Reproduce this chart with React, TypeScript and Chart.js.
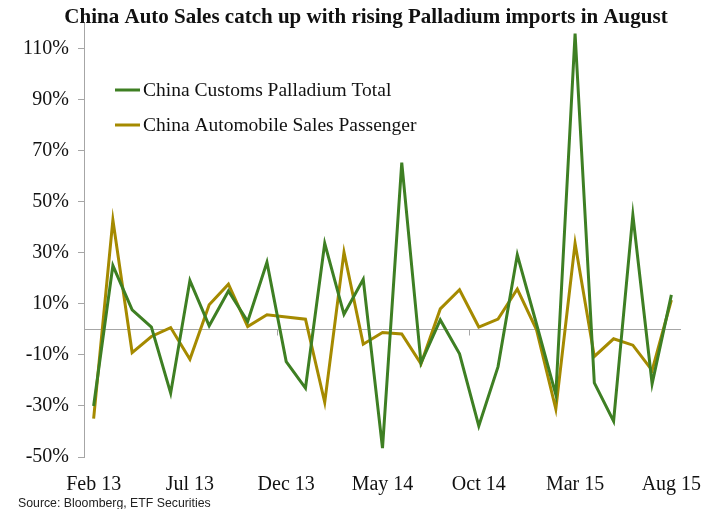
import React, { useEffect, useRef } from "react";
import { Chart, registerables } from "chart.js";

Chart.register(...registerables);

const months = [
  "Feb 13","Mar 13","Apr 13","May 13","Jun 13","Jul 13","Aug 13","Sep 13","Oct 13","Nov 13",
  "Dec 13","Jan 14","Feb 14","Mar 14","Apr 14","May 14","Jun 14","Jul 14","Aug 14","Sep 14",
  "Oct 14","Nov 14","Dec 14","Jan 15","Feb 15","Mar 15","Apr 15","May 15","Jun 15","Jul 15","Aug 15",
];

const palladium = [
  -30, 25, 7.6, 0.9, -25, 19.1, 1.4, 15, 3.1, 26.3,
  -12.6, -23, 33.7, 5.9, 19.6, -46.5, 65.3, -13.2, 3.7, -9.6,
  -37.8, -14.6, 29.2, 2, -25.6, 115.9, -21, -36, 44.8, -21.3, 13.5,
];

const autoSales = [
  -35, 42.8, -9.1, -2.8, 0.7, -11.7, 9.6, 17.7, 1.1, 5.7,
  4.8, 4.0, -28.6, 30.2, -5.8, -1.2, -1.8, -13.5, 8.0, 15.5,
  0.9, 4.0, 15.8, -0.2, -31.2, 33.7, -10.6, -3.7, -6.2, -16.1, 11.5,
];

const yTicks = [-50, -30, -10, 10, 30, 50, 70, 90, 110];

const seriesNames = ["China Customs Palladium Total", "China Automobile Sales Passenger"];
const seriesColors = ["#3E7F23", "#A58A00"];

const titleText = "China Auto Sales catch up with rising Palladium imports in August";
const sourceText = "Source: Bloomberg, ETF Securities";

const SERIF = "'Liberation Serif', 'DejaVu Serif', serif";
const AXIS_GRAY = "#A6A6A6";

const decorPlugin = {
  id: "decor",
  beforeDatasetsDraw(chart: any) {
    const ctx = chart.ctx;
    const area = chart.chartArea;
    const y = chart.scales.y;
    const x = chart.scales.x;
    const y0 = Math.round(y.getPixelForValue(0)) + 0.5;
    ctx.save();
    ctx.strokeStyle = AXIS_GRAY;
    ctx.lineWidth = 1;
    ctx.beginPath();
    ctx.moveTo(area.left, y0);
    ctx.lineTo(area.right, y0);
    const step = x.getPixelForValue(1) - x.getPixelForValue(0);
    for (let i = 10; i < months.length; i += 10) {
      const px = Math.round(x.getPixelForValue(i) - step / 2) + 0.5;
      ctx.moveTo(px, y0);
      ctx.lineTo(px, y0 + 6);
    }
    ctx.stroke();
    ctx.restore();
  },
  afterDraw(chart: any) {
    const ctx = chart.ctx;
    ctx.save();
    ctx.fillStyle = "#111";
    ctx.font = `bold 21px ${SERIF}`;
    ctx.textAlign = "center";
    ctx.textBaseline = "middle";
    ctx.fillText(titleText, 366, 18);
    ctx.font = `19.5px ${SERIF}`;
    ctx.textAlign = "left";
    const rows = [90, 125];
    chart.data.datasets.forEach((ds: any, i: number) => {
      ctx.strokeStyle = ds.borderColor;
      ctx.lineWidth = 3;
      ctx.beginPath();
      ctx.moveTo(115, rows[i]);
      ctx.lineTo(140, rows[i]);
      ctx.stroke();
      ctx.fillStyle = "#111";
      ctx.fillText(ds.label, 143, rows[i] + 1);
    });
    ctx.font = "12.3px 'Liberation Sans', Arial, sans-serif";
    ctx.fillStyle = "#222";
    ctx.fillText(sourceText, 18, 504);
    ctx.restore();
  },
};

export default function App() {
  const ref = useRef<HTMLCanvasElement | null>(null);
  useEffect(() => {
    if (!ref.current) return;
    const chart = new Chart(ref.current, {
      type: "line",
      data: {
        labels: months,
        datasets: [
          {
            label: seriesNames[0],
            data: palladium,
            borderColor: seriesColors[0],
            backgroundColor: seriesColors[0],
            borderWidth: 3,
            pointRadius: 0,
            tension: 0,
          },
          {
            label: seriesNames[1],
            data: autoSales,
            borderColor: seriesColors[1],
            backgroundColor: seriesColors[1],
            borderWidth: 3,
            pointRadius: 0,
            tension: 0,
          },
        ],
      },
      options: {
        animation: false,
        responsive: true,
        maintainAspectRatio: false,
        layout: { padding: { top: 23, right: 33, left: 0, bottom: 0 } },
        plugins: {
          legend: { display: false },
          title: { display: false },
          tooltip: { enabled: false },
        },
        scales: {
          x: {
            type: "category",
            offset: true,
            grid: { display: false, offset: true, drawTicks: false },
            border: { display: false },
            ticks: {
              autoSkip: false,
              maxRotation: 0,
              padding: 16,
              color: "#111",
              font: { family: SERIF, size: 20 },
              callback: (_v: any, idx: number) => (idx % 5 === 0 ? months[idx] : null),
            },
            afterFit: (s: any) => {
              s.height = 52;
              s.paddingLeft = 0;
              s.paddingRight = 0;
            },
          },
          y: {
            min: -50,
            max: 120,
            grid: { drawOnChartArea: false, drawTicks: true, tickLength: 6, color: AXIS_GRAY },
            border: { display: true, color: AXIS_GRAY },
            ticks: {
              padding: 9,
              color: "#111",
              font: { family: SERIF, size: 20 },
              callback: (v: any) => `${v}%`,
            },
            afterBuildTicks: (s: any) => {
              s.ticks = yTicks.map((v) => ({ value: v }));
            },
            afterFit: (s: any) => {
              s.width = 84;
            },
          },
        },
      },
      plugins: [decorPlugin],
    });
    return () => chart.destroy();
  }, []);

  return (
    <div style={{ position: "absolute", left: 0, top: 0, width: 714, height: 509, background: "#fff" }}>
      <canvas ref={ref} />
    </div>
  );
}
